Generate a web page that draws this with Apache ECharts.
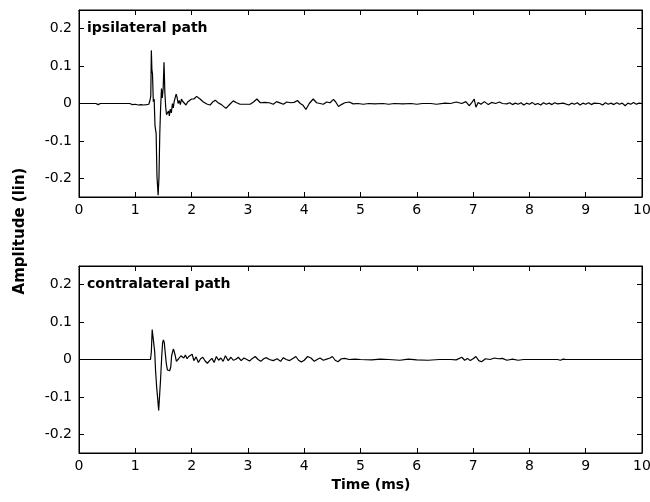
<!DOCTYPE html>
<html>
<head>
<meta charset="utf-8">
<script src="https://cdn.jsdelivr.net/npm/echarts@6/dist/echarts.min.js"></script>
<style>html,body{margin:0;padding:0;background:#fff}#c{width:650px;height:502px}</style>
</head>
<body>
<div id="c"></div>
<script>
// Panel titles and axis labels
const panelTitles = ["ipsilateral path", "contralateral path"];
const yAxisTitle = "Amplitude (lin)";
const xAxisTitle = "Time (ms)";
const xTicks = [0, 1, 2, 3, 4, 5, 6, 7, 8, 9, 10];
const yTicks = [-0.2, -0.1, 0, 0.1, 0.2];

// Ipsilateral path (time in ms, amplitude lin)
const ipsiTime = [0, 0.3, 0.34, 0.38, 0.9, 0.95, 1.0, 1.05, 1.1, 1.15, 1.2, 1.24, 1.26, 1.275, 1.285, 1.295, 1.305, 1.32, 1.335, 1.35, 1.37, 1.385, 1.405, 1.42, 1.435, 1.45, 1.465, 1.48, 1.495, 1.51, 1.525, 1.54, 1.555, 1.57, 1.59, 1.605, 1.62, 1.64, 1.66, 1.675, 1.69, 1.71, 1.725, 1.74, 1.76, 1.78, 1.80, 1.82, 1.84, 1.87, 1.90, 1.93, 1.96, 2.00, 2.04, 2.09, 2.15, 2.21, 2.28, 2.33, 2.38, 2.42, 2.47, 2.53, 2.61, 2.68, 2.74, 2.80, 2.86, 2.95, 3.04, 3.10, 3.16, 3.22, 3.30, 3.38, 3.45, 3.51, 3.58, 3.63, 3.69, 3.76, 3.82, 3.88, 3.93, 3.98, 4.03, 4.09, 4.16, 4.22, 4.28, 4.34, 4.40, 4.46, 4.52, 4.56, 4.61, 4.66, 4.72, 4.80, 4.87, 4.95, 5.05, 5.15, 5.25, 5.4, 5.5, 5.6, 5.75, 5.9, 6.0, 6.1, 6.25, 6.35, 6.5, 6.6, 6.7, 6.8, 6.87, 6.93, 6.98, 7.02, 7.05, 7.09, 7.14, 7.2, 7.27, 7.33, 7.4, 7.47, 7.52, 7.6, 7.65, 7.7, 7.75, 7.8, 7.85, 7.9, 7.95, 8.0, 8.05, 8.1, 8.15, 8.2, 8.25, 8.3, 8.35, 8.4, 8.45, 8.5, 8.6, 8.7, 8.75, 8.8, 8.85, 8.9, 8.95, 9.0, 9.05, 9.1, 9.15, 9.25, 9.3, 9.35, 9.4, 9.45, 9.5, 9.55, 9.6, 9.65, 9.7, 9.75, 9.8, 9.85, 9.9, 9.95, 10];
const ipsiAmp = [0, 0, -0.003, 0, 0, -0.003, -0.002, -0.004, -0.003, -0.004, -0.003, -0.002, 0.008, 0.02, 0.142, 0.09, 0.08, 0.005, 0.012, -0.06, -0.08, -0.195, -0.245, -0.2, -0.08, -0.01, 0.04, 0.015, 0.04, 0.11, 0.03, -0.01, -0.03, -0.035, -0.02, -0.033, -0.015, -0.025, 0.0, -0.012, 0.005, 0.0, 0.025, 0.018, 0.0, 0.008, -0.003, 0.012, 0.006, 0.01, -0.004, 0.004, 0.008, 0.012, 0.012, 0.019, 0.012, 0.004, -0.002, -0.004, 0.005, 0.009, 0.002, -0.003, -0.013, -0.002, 0.007, 0.002, -0.002, -0.002, -0.002, 0.004, 0.012, 0.002, 0.003, 0.002, -0.002, 0.005, 0.001, -0.002, 0.004, 0.002, 0.003, 0.008, 0.0, -0.005, -0.016, 0.0, 0.012, 0.002, 0.0, -0.002, 0.004, 0.002, 0.011, 0.004, -0.008, -0.003, 0.002, 0.004, -0.001, 0.0, -0.002, 0.0, -0.001, 0.0, -0.002, 0.0, -0.001, 0.0, -0.002, 0.0, 0.0, -0.002, 0.001, 0.0, 0.004, 0.0, 0.005, -0.006, 0.003, 0.012, -0.01, 0.003, -0.002, 0.005, -0.003, 0.003, 0.0, 0.004, 0.0, -0.001, 0.002, -0.003, 0.001, -0.002, 0.002, -0.004, 0.001, -0.002, 0.003, -0.003, 0.0, -0.004, 0.002, -0.002, 0.001, -0.003, 0.002, -0.001, 0.001, -0.004, 0.001, -0.002, 0.002, -0.004, 0.001, -0.002, 0.002, -0.003, 0.001, 0.0, -0.004, 0.002, -0.002, 0.001, -0.003, 0.002, -0.002, 0.001, -0.006, 0.001, -0.002, 0.003, -0.002, 0.001, 0];

// Contralateral path
const contraTime = [0, 1.27, 1.285, 1.30, 1.315, 1.33, 1.345, 1.36, 1.38, 1.395, 1.415, 1.43, 1.45, 1.47, 1.485, 1.50, 1.515, 1.53, 1.55, 1.57, 1.59, 1.61, 1.63, 1.645, 1.66, 1.675, 1.69, 1.71, 1.73, 1.75, 1.77, 1.79, 1.81, 1.83, 1.86, 1.89, 1.92, 1.95, 1.98, 2.01, 2.04, 2.08, 2.12, 2.16, 2.2, 2.24, 2.28, 2.32, 2.36, 2.40, 2.44, 2.48, 2.52, 2.56, 2.60, 2.65, 2.7, 2.74, 2.78, 2.83, 2.88, 2.93, 2.98, 3.03, 3.08, 3.13, 3.18, 3.23, 3.28, 3.33, 3.38, 3.45, 3.52, 3.58, 3.63, 3.68, 3.74, 3.8, 3.85, 3.9, 3.95, 4.0, 4.06, 4.12, 4.18, 4.23, 4.28, 4.34, 4.4, 4.46, 4.5, 4.55, 4.6, 4.66, 4.72, 4.8, 4.9, 5.0, 5.2, 5.35, 5.5, 5.7, 5.85, 6.0, 6.2, 6.4, 6.6, 6.7, 6.8, 6.85, 6.9, 6.95, 7.0, 7.05, 7.1, 7.15, 7.22, 7.3, 7.38, 7.45, 7.52, 7.6, 7.7, 7.8, 7.9, 8.5, 8.55, 8.6, 8.65, 10];
const contraAmp = [0, 0, 0.02, 0.08, 0.06, 0.065, 0.02, -0.03, -0.075, -0.1, -0.136, -0.1, -0.05, 0.01, 0.045, 0.052, 0.045, 0.02, -0.01, -0.028, -0.033, -0.03, -0.02, 0.01, 0.015, 0.028, 0.022, 0.01, -0.005, -0.01, 0.002, -0.002, 0.01, 0.008, 0.004, 0.012, 0.002, 0.008, 0.004, 0.014, -0.003, 0.007, -0.008, 0.002, 0.006, -0.004, -0.01, -0.003, 0.003, -0.008, 0.008, -0.002, 0.004, -0.005, 0.01, -0.003, 0.006, -0.002, 0.0, 0.006, -0.003, 0.004, 0.0, -0.004, 0.003, 0.008, 0.0, -0.005, 0.002, 0.005, 0.0, -0.003, 0.002, -0.005, 0.005, 0.0, -0.003, 0.003, 0.008, -0.002, -0.007, -0.002, 0.008, 0.004, -0.005, 0.0, 0.004, -0.002, 0.001, 0.004, 0.008, -0.002, -0.006, 0.002, 0.003, 0.0, 0.001, 0.0, -0.001, 0.001, 0.0, -0.002, 0.001, -0.001, -0.002, 0.0, 0.0, -0.001, 0.006, -0.002, 0.003, -0.003, 0.002, 0.008, -0.003, -0.006, 0.002, 0.0, 0.004, 0.002, 0.003, -0.002, 0.001, -0.002, 0.0, 0.0, -0.002, 0.001, 0.0, 0];

const zip = (t, v) => t.map((x, i) => [x, v[i]]);
const FONT = '"DejaVu Sans", "Liberation Sans", sans-serif';
const chart = echarts.init(document.getElementById('c'), null, {renderer: 'canvas'});

const grids = [
  {left: 79, right: 8, top: 10, height: 187},
  {left: 79, right: 8, top: 266, height: 187}
];
const xAxes = [], yAxes = [];
grids.forEach((g, i) => {
  xAxes.push({
    type: 'value', gridIndex: i, min: 0, max: 10, interval: 1, position: 'bottom',
    axisLine: {show: true, onZero: false, lineStyle: {color: '#000', width: 1}},
    axisTick: {show: true, inside: true, length: 5, lineStyle: {color: '#000'}},
    axisLabel: {show: true, color: '#000', fontFamily: FONT, fontSize: 14, margin: 6, hideOverlap: false},
    splitLine: {show: false}
  });
  xAxes.push({
    type: 'value', gridIndex: i, min: 0, max: 10, interval: 1, position: 'top',
    axisLine: {show: true, onZero: false, lineStyle: {color: '#000', width: 1}},
    axisTick: {show: true, inside: true, length: 5, lineStyle: {color: '#000'}},
    axisLabel: {show: false}, splitLine: {show: false}
  });
  yAxes.push({
    type: 'value', gridIndex: i, min: -0.25, max: 0.25, position: 'left',
    axisLine: {show: true, onZero: false, lineStyle: {color: '#000', width: 1}},
    axisTick: {show: true, inside: true, length: 5, customValues: yTicks, lineStyle: {color: '#000'}},
    axisLabel: {show: true, color: '#000', fontFamily: FONT, fontSize: 14, margin: 7, customValues: yTicks,
      formatter: v => String(Math.round(v * 10) / 10)},
    splitLine: {show: false}
  });
  yAxes.push({
    type: 'value', gridIndex: i, min: -0.25, max: 0.25, position: 'right',
    axisLine: {show: true, onZero: false, lineStyle: {color: '#000', width: 1}},
    axisTick: {show: true, inside: true, length: 5, customValues: yTicks, lineStyle: {color: '#000'}},
    axisLabel: {show: false}, splitLine: {show: false}
  });
});

const lineStyle = {color: '#000', width: 1.2};
chart.setOption({
  animation: false,
  backgroundColor: '#fff',
  grid: grids.map(g => Object.assign({show: true, borderColor: '#000', borderWidth: 1, backgroundColor: '#fff',
    containLabel: false, outerBoundsMode: 'none'}, g)),
  xAxis: xAxes,
  yAxis: yAxes,
  series: [
    {type: 'line', xAxisIndex: 0, yAxisIndex: 0, data: zip(ipsiTime, ipsiAmp), showSymbol: false, lineStyle: lineStyle, clip: true},
    {type: 'line', xAxisIndex: 2, yAxisIndex: 2, data: zip(contraTime, contraAmp), showSymbol: false, lineStyle: lineStyle, clip: true}
  ],
  graphic: [
    {type: 'text', left: 87, top: 21, style: {text: panelTitles[0], font: 'bold 14px ' + FONT, fill: '#000'}},
    {type: 'text', left: 87, top: 277, style: {text: panelTitles[1], font: 'bold 14px ' + FONT, fill: '#000'}},
    {type: 'text', x: 20, y: 231, rotation: Math.PI / 2,
      style: {text: yAxisTitle, font: 'bold 15px ' + FONT, fill: '#000', align: 'center', verticalAlign: 'middle'}},
    {type: 'text', x: 371, y: 485,
      style: {text: xAxisTitle, font: 'bold 14px ' + FONT, fill: '#000', align: 'center', verticalAlign: 'middle'}}
  ]
});
</script>
</body>
</html>
